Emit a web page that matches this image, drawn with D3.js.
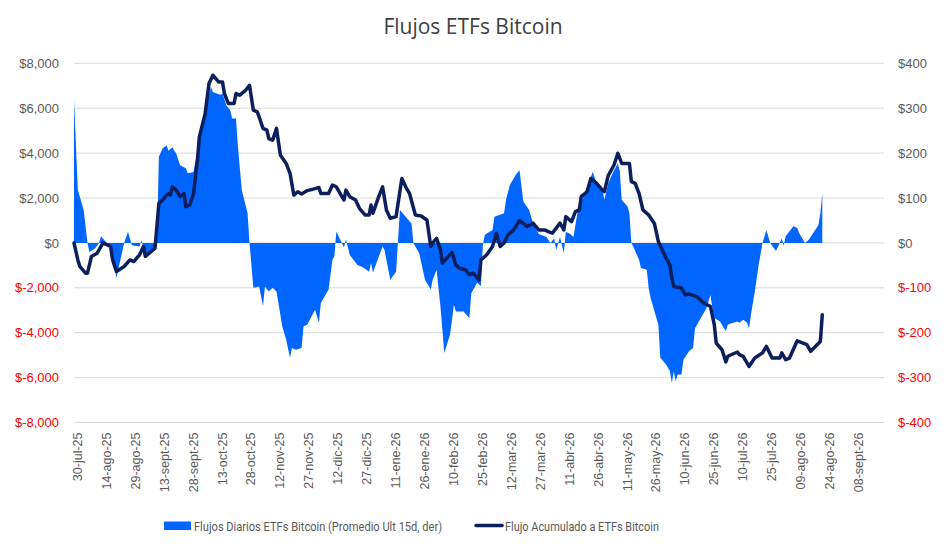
<!DOCTYPE html>
<html>
<head>
<meta charset="utf-8">
<script src="https://cdn.jsdelivr.net/npm/d3@7"></script>
<style>
  body { margin: 0; background: #fff; }
  svg { display: block; }
</style>
</head>
<body>
<div id="grafico"></div>
<script>
// dias desde 30-jul-25 y flujo diario promedio 15d (eje derecho)
const diasFlujo = [0, 2, 5, 7, 8, 11, 13, 14, 17, 19, 22, 26, 28, 29, 30, 34, 35, 37, 39, 43,
  44, 46, 48, 49, 51, 52, 53, 55, 58, 59, 62, 63, 64, 65, 68, 71, 72, 74, 76, 77,
  79, 81, 82, 84, 85, 87, 90, 91, 93, 96, 98, 99, 101, 103, 105, 108, 110, 112, 113, 115,
  118, 119, 121, 125, 127, 128, 132, 134, 135, 136, 140, 141, 143, 147, 150, 153, 154, 155, 160, 161,
  164, 167, 169, 172, 175, 176, 177, 179, 182, 185, 186, 188, 190, 192, 195, 197, 198, 202, 205, 206,
  209, 211, 212, 213, 217, 218, 223, 224, 226, 229, 231, 233, 236, 238, 241, 245, 247, 249, 250, 252,
  254, 255, 257, 259, 261, 266, 269, 271, 274, 275, 277, 280, 282, 283, 284, 287, 288, 289, 290, 293,
  294, 297, 298, 299, 301, 303, 304, 307, 309, 310, 311, 312, 313, 315, 316, 319, 321, 322, 325, 328,
  330, 331, 332, 335, 338, 339, 344, 345, 347, 349, 350, 351, 353, 355, 357, 359, 361, 364, 367, 368,
  369, 373, 375, 376, 379, 381, 385, 386, 387, 388];
const flujoDiario = [318, 118, 73, 0, -20, -12, 0, 15, 0, -10, -78, 0, 25, 10, -5, -8, 6, -30, -20, -5,
  192, 211, 217, 205, 213, 205, 199, 173, 166, 155, 158, 184, 184, 244, 296, 347, 336, 333, 330, 333,
  306, 296, 277, 277, 214, 118, 66, 0, -100, -97, -141, -97, -108, -100, -108, -186, -215, -256, -234, -238,
  -234, -186, -182, -149, -178, -134, -104, -38, -30, 25, -10, 8, -27, -49, -55, -64, -45, -66, -8, -16,
  -82, -64, 73, 58, 43, 0, -8, -23, -82, -104, -82, -60, -141, -245, -204, -138, -153, -153, -167, -112,
  -89, -96, -5, 18, 29, 58, 66, 96, 129, 151, 162, 92, 73, 44, 20, 13, 0, 10, -16, 13,
  -23, 24, 21, 13, 66, 125, 158, 133, 118, 96, 133, 162, 177, 160, 96, 81, 66, 0, -8, -38,
  -56, -60, -101, -123, -153, -182, -256, -271, -286, -312, -286, -308, -293, -293, -260, -241, -234, -190, -167, -145,
  -116, -145, -167, -175, -197, -182, -175, -178, -171, -178, -190, -160, -108, -49, 0, 29, 0, -18, 10, -7,
  15, 37, 33, 22, 0, 7, 33, 40, 66, 110];

// dias desde 30-jul-25 y flujo acumulado (eje izquierdo)
const diasAcum = [0, 2, 3, 6, 7, 9, 12, 13, 15, 19, 20, 22, 26, 29, 31, 34, 36, 37, 39, 42,
  44, 46, 48, 49, 50, 51, 53, 55, 57, 58, 60, 62, 64, 65, 68, 70, 72, 75, 77, 78,
  80, 83, 84, 86, 89, 91, 93, 95, 96, 98, 100, 101, 103, 105, 107, 110, 112, 114, 116, 118,
  121, 125, 127, 128, 132, 134, 136, 140, 141, 143, 146, 148, 151, 153, 154, 155, 158, 160, 162, 164,
  167, 170, 172, 174, 177, 180, 183, 185, 186, 188, 190, 191, 194, 196, 198, 200, 203, 205, 207, 210,
  211, 214, 217, 219, 221, 223, 225, 228, 231, 235, 238, 241, 244, 246, 248, 252, 254, 255, 258, 260,
  262, 263, 266, 268, 271, 274, 275, 277, 280, 282, 284, 288, 289, 291, 293, 295, 298, 301, 303, 307,
  309, 310, 311, 315, 317, 319, 323, 326, 330, 332, 333, 336, 338, 339, 344, 345, 347, 350, 353, 357,
  359, 362, 366, 367, 369, 371, 375, 378, 380, 382, 387, 388];
const flujoAcum = [0, -760, -1050, -1350, -1350, -610, -460, -310, 0, -160, -750, -1270, -1050, -760, -830, -530, -160, -600, -460, -240,
  1760, 1910, 2130, 2200, 2130, 2500, 2350, 2060, 2200, 1610, 1690, 2200, 3690, 4720, 5760, 7100, 7470, 7170, 7170, 6650,
  6210, 6210, 6650, 6580, 6800, 7020, 5910, 5840, 5610, 5100, 5020, 4650, 4580, 5100, 3910, 3540, 3100, 2130, 2280, 2180,
  2330, 2420, 2470, 2200, 2200, 2580, 2500, 1910, 2350, 2060, 1910, 1540, 1240, 1240, 1690, 1320, 2060, 2500, 1470, 1100,
  1170, 2870, 2500, 2200, 1240, 1200, 1020, -160, 0, 200, -310, -900, -610, -420, -980, -1130, -1200, -1420, -1350, -1640,
  -760, -530, -160, 430, -160, 0, 360, 580, 990, 730, 880, 580, 580, 500, 430, 880, 580, 1170, 950, 1390,
  1470, 2060, 2280, 2870, 2650, 2350, 2280, 3000, 3470, 3990, 3540, 3540, 2730, 2650, 2200, 1470, 1240, 850, 60, -680,
  -980, -1570, -1940, -2010, -2310, -2280, -2390, -2640, -2830, -3640, -4460, -4760, -5300, -5050, -4860, -4980, -5050, -5500, -5130, -4900,
  -4610, -5130, -5130, -4900, -5200, -5130, -4360, -4460, -4530, -4830, -4390, -3200];

const etiquetasX = ["30-jul-25", "14-ago-25", "29-ago-25", "13-sept-25", "28-sept-25", "13-oct-25",
  "28-oct-25", "12-nov-25", "27-nov-25", "12-dic-25", "27-dic-25", "11-ene-26", "26-ene-26",
  "10-feb-26", "25-feb-26", "12-mar-26", "27-mar-26", "11-abr-26", "26-abr-26", "11-may-26",
  "26-may-26", "10-jun-26", "25-jun-26", "10-jul-26", "25-jul-26", "09-ago-26", "24-ago-26", "08-sept-26"];
const ticksIzq = [-8000, -6000, -4000, -2000, 0, 2000, 4000, 6000, 8000];
const ticksDer = [-400, -300, -200, -100, 0, 100, 200, 300, 400];

const titulo = "Flujos ETFs Bitcoin";
const serieArea = "Flujos Diarios ETFs Bitcoin (Promedio Ult 15d, der)";
const serieLinea = "Flujo Acumulado a ETFs Bitcoin";

function drawChart(id) {
  const W = 946, H = 550;
  const left = 74, right = 884, top = 63.3, bottom = 422.5;
  const font = "'Liberation Sans', Arial, sans-serif";
  const gris = "#595959";

  const svg = d3.select(`#${id}`).append("svg")
    .attr("width", W).attr("height", H)
    .attr("viewBox", [0, 0, W, H]);

  // scales
  const x = d3.scaleLinear().domain([0, 420]).range([left, right]);
  const yIzq = d3.scaleLinear().domain([-8000, 8000]).range([bottom, top]);
  const yDer = d3.scaleLinear().domain([-400, 400]).range([bottom, top]);

  const fmt = (v) => "$" + d3.format(",")(v).replace("\u2212", "-");

  // gridlines
  svg.append("g").selectAll("line").data(ticksIzq).join("line")
    .attr("x1", left).attr("x2", right)
    .attr("y1", (d) => yIzq(d)).attr("y2", (d) => yIzq(d))
    .attr("stroke", "#d9d9d9").attr("stroke-width", 1);

  // left axis
  const ejeIzq = svg.append("g")
    .attr("transform", `translate(${left - 15},0)`)
    .call(d3.axisLeft(yIzq).tickValues(ticksIzq).tickFormat(fmt).tickSize(0).tickPadding(0));
  ejeIzq.select(".domain").remove();
  ejeIzq.selectAll("text")
    .attr("font-family", font).attr("font-size", 13)
    .attr("fill", (d) => (d < 0 ? "#ff0000" : gris));

  // right axis
  const ejeDer = svg.append("g")
    .attr("transform", `translate(${right + 14},0)`)
    .call(d3.axisRight(yDer).tickValues(ticksDer).tickFormat(fmt).tickSize(0).tickPadding(0));
  ejeDer.select(".domain").remove();
  ejeDer.selectAll("text")
    .attr("font-family", font).attr("font-size", 13)
    .attr("fill", (d) => (d < 0 ? "#ff0000" : gris));

  // x axis labels, one every 15 days
  const ticksX = etiquetasX.map((d, i) => i * 15);
  const ejeX = svg.append("g")
    .attr("transform", `translate(0,${bottom})`)
    .call(d3.axisBottom(x).tickValues(ticksX).tickFormat((d, i) => etiquetasX[i]).tickSize(0).tickPadding(0));
  ejeX.select(".domain").remove();
  ejeX.selectAll("text")
    .attr("font-family", font).attr("font-size", 12.5).attr("fill", gris)
    .attr("text-anchor", "end")
    .attr("transform", "translate(3,10) rotate(-90)")
    .attr("dy", "0.35em").attr("y", 0);

  // area (eje derecho)
  const datosArea = diasFlujo.map((d, i) => ({ dia: d, valor: flujoDiario[i] }));
  const area = d3.area()
    .x((d) => x(d.dia))
    .y0(yDer(0))
    .y1((d) => yDer(d.valor));
  svg.append("path").datum(datosArea)
    .attr("d", area).attr("fill", "#0066ff");

  // line (eje izquierdo)
  const datosLinea = diasAcum.map((d, i) => ({ dia: d, valor: flujoAcum[i] }));
  const line = d3.line()
    .x((d) => x(d.dia))
    .y((d) => yIzq(d.valor));
  svg.append("path").datum(datosLinea)
    .attr("d", line).attr("fill", "none")
    .attr("stroke", "#0c1f5c").attr("stroke-width", 3.5)
    .attr("stroke-linejoin", "round").attr("stroke-linecap", "round");

  // title
  svg.append("text")
    .attr("x", 473).attr("y", 34)
    .attr("text-anchor", "middle")
    .attr("font-family", "'Open Sans', 'Noto Sans', sans-serif")
    .attr("font-size", 21).attr("fill", "#404040")
    .text(titulo);

  // legend (narrow text squeezed to the reference widths)
  const leyenda = svg.append("g")
    .attr("font-family", "'Roboto', sans-serif")
    .attr("font-size", 13.5).attr("fill", gris);
  leyenda.append("rect")
    .attr("x", 164).attr("y", 521.5).attr("width", 27).attr("height", 8.5)
    .attr("fill", "#0066ff");
  leyenda.append("text").attr("x", 194).attr("y", 530.5)
    .attr("textLength", 248).attr("lengthAdjust", "spacingAndGlyphs")
    .text(serieArea);
  leyenda.append("line")
    .attr("x1", 476).attr("x2", 502).attr("y1", 525.5).attr("y2", 525.5)
    .attr("stroke", "#0c1f5c").attr("stroke-width", 3.5).attr("stroke-linecap", "round");
  leyenda.append("text").attr("x", 505).attr("y", 530.5)
    .attr("textLength", 154).attr("lengthAdjust", "spacingAndGlyphs")
    .text(serieLinea);
}

document.addEventListener("DOMContentLoaded", function () {
  drawChart("grafico");
});
</script>
</body>
</html>
